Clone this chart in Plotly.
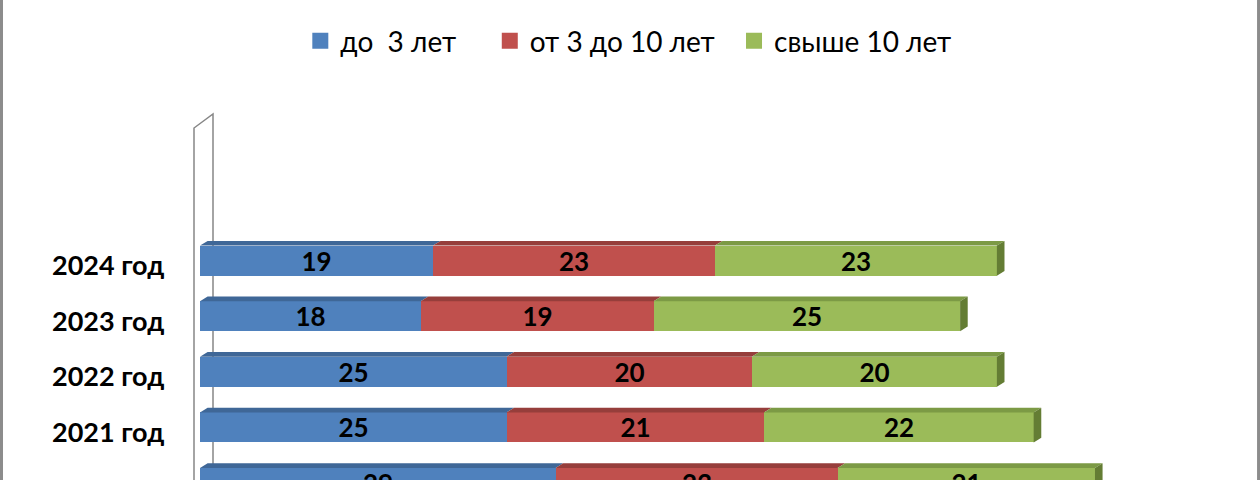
import plotly.graph_objects as go

# ---- data ----
years = ["2020 год", "2021 год", "2022 год", "2023 год", "2024 год"]
up_to_3 = [29, 25, 25, 18, 19]
from_3_to_10 = [23, 21, 20, 19, 23]
over_10 = [21, 22, 20, 25, 23]
series_names = ["до\u00a0 3 лет", "от 3 до 10 лет", "свыше 10 лет"]
legend_pad = ["\u00a0" * 4, "\u00a0" * 2, ""]

front_colors = ["#4F81BD", "#C0504D", "#9BBB59"]
top_colors = ["#3F6797", "#963E3B", "#7C9A45"]
side_color = "#647D34"

ypos = list(range(len(years)))
series = [up_to_3, from_3_to_10, over_10]

BAR_W = 0.54      # bar thickness (y units)
DX = 0.62         # 3D depth in x units
DY = 0.085        # 3D depth in y units

FONT = "Lato"

fig = go.Figure()

# front faces of stacked bars
for vals, name, col in zip(series, series_names, front_colors):
    fig.add_trace(go.Bar(
        orientation="h", y=ypos, x=vals, width=BAR_W, name=name,
        marker=dict(color=col, line=dict(width=0)),
        text=vals, textposition="inside", insidetextanchor="middle", textangle=0,
        constraintext="none",
        textfont=dict(family=FONT, size=26, color="black", weight="bold"),
        showlegend=False, hoverinfo="x+name",
    ))

# legend entries
for name, pad, col in zip(series_names, legend_pad, front_colors):
    fig.add_trace(go.Scatter(
        x=[None], y=[None], mode="markers", name=name + pad,
        marker=dict(symbol="square", size=17, color=col),
    ))

# 3D top and side faces computed from the data
for i, y in enumerate(ypos):
    start = 0
    top = y + BAR_W / 2
    for k, vals in enumerate(series):
        end = start + vals[i]
        path = (f"M {start},{top} L {end},{top} L {end + DX},{top + DY} "
                f"L {start + DX},{top + DY} Z")
        fig.add_shape(type="path", path=path, xref="x", yref="y",
                      fillcolor=top_colors[k], line=dict(width=0), layer="above")
        start = end
    bot = y - BAR_W / 2
    path = (f"M {start},{bot} L {start},{top} L {start + DX},{top + DY} "
            f"L {start + DX},{bot + DY} Z")
    fig.add_shape(type="path", path=path, xref="x", yref="y",
                  fillcolor=side_color, line=dict(width=0), layer="above")

# category labels
for y, lab in zip(ypos, years):
    fig.add_annotation(x=-0.013, xref="paper", y=y, yref="y", text=lab,
                       showarrow=False, xanchor="right", yanchor="middle", yshift=-4,
                       font=dict(family=FONT, size=27, color="black", weight="bold"))

# side wall outline
fig.add_shape(type="path", xref="x", yref="y",
              path="M -0.49,-2 L -0.49,6.385 L 1.06,6.637 L 1.06,-2",
              line=dict(color="#868686", width=1.5), layer="below")

# outer frame lines
for xp in (-0.1684, 1.0175):
    fig.add_shape(type="line", xref="paper", yref="paper", x0=xp, x1=xp, y0=-0.1, y1=1.3,
                  line=dict(color="#8C8C8C", width=3))

fig.update_layout(
    width=1260, height=480,
    margin=dict(l=180, r=20, t=100, b=0),
    barmode="stack", bargap=0,
    plot_bgcolor="white", paper_bgcolor="white",
    xaxis=dict(range=[-1.632, 84.83], visible=False, fixedrange=True),
    yaxis=dict(range=[0.054, 6.889], visible=False, fixedrange=True),
    legend=dict(orientation="h", x=0.1135, xanchor="left", y=1.155, yanchor="middle",
                traceorder="normal",
                font=dict(family=FONT, size=28, color="black"), itemsizing="trace"),
    uniformtext=dict(minsize=26, mode="show"),
    font=dict(family=FONT),
)

fig.write_html("out.html", config={"displayModeBar": False},
               post_script="document.body.style.margin='0';")
